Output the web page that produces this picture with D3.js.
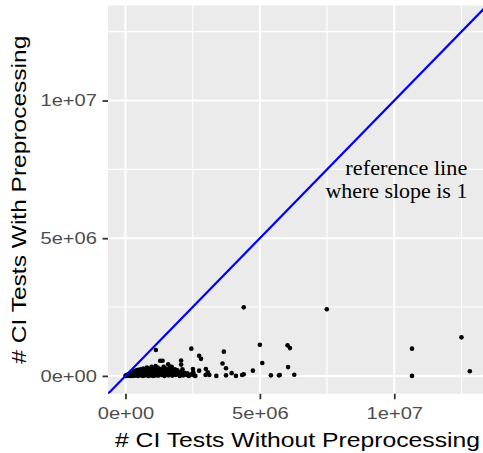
<!DOCTYPE html>
<html>
<head>
<meta charset="utf-8">
<script src="https://cdn.jsdelivr.net/npm/d3@7"></script>
<style>
  body { margin: 0; background: #fff; }
  svg { display: block; }
</style>
</head>
<body>
<script>
// values in millions of CI tests
const testsWithout = [
  0, 0.02, 0.04, 0.05, 0.07, 0.09, 0.1, 0.12, 0.14, 0.15, 0.17, 0.18, 0.2, 0.22, 0.23, 0.25,
  0.27, 0.28, 0.3, 0.31, 0.33, 0.35, 0.36, 0.38, 0.4, 0.41, 0.43, 0.45, 0.46, 0.48, 0.5, 0.52,
  0.54, 0.55, 0.57, 0.6, 0.62, 0.63, 0.65, 0.67, 0.7, 0.72, 0.73, 0.75, 0.78, 0.8, 0.81, 0.83,
  0.85, 0.87, 0.9, 0.91, 0.93, 0.95, 0.97, 1.0, 1.02, 1.03, 1.05, 1.07, 1.1, 1.12, 1.13, 1.15,
  1.17, 1.2, 1.22, 1.24, 1.26, 1.29, 1.3, 1.32, 1.35, 1.37, 1.38, 1.4, 1.42, 1.45, 1.47, 1.5,
  1.52, 1.55, 1.57, 1.59, 1.6, 1.63, 1.65, 1.67, 1.7, 1.72, 1.74, 1.77, 1.8, 1.82, 1.84, 1.86,
  1.9, 1.93, 1.95, 1.98, 2.0, 2.02, 2.05, 2.07, 2.07, 2.1, 2.12, 2.15, 2.2, 2.25, 2.3, 2.35,
  2.4, 2.45, 2.55, 2.6, 1.13,
  4.40, 7.49, 12.5, 10.66, 10.66, 12.81, 5.0, 6.03, 6.12, 5.09, 6.05, 6.28, 5.41, 5.71, 5.74,
  4.74, 4.40, 4.34, 4.11, 3.95, 3.74, 3.66, 3.61, 3.74, 3.38, 2.45, 2.74, 2.81, 2.99, 3.06,
  2.98, 3.12, 2.74, 2.51, 2.52
];
const testsWith = [
  0, 0.01, 0.02, 0, 0.03, 0.05, 0.01, 0.06, 0.02, 0.08, 0, 0.1, 0.04, 0.12, 0.02, 0.07,
  0.14, 0, 0.05, 0.16, 0.09, 0.01, 0.18, 0.11, 0.03, 0.2, 0.07, 0.13, 0, 0.22, 0.05, 0.16,
  0.09, 0.02, 0.24, 0.12, 0.04, 0.19, 0, 0.27, 0.08, 0.15, 0.02, 0.22, 0.1, 0.3, 0.04, 0.17,
  0, 0.25, 0.07, 0.21, 0.12, 0.02, 0.33, 0.09, 0.18, 0, 0.27, 0.05, 0.14, 0.36, 0.02, 0.22,
  0.1, 0.3, 0.01, 0.17, 0.07, 0.55, 0.25, 0.12, 0.03, 0.2, 0.55, 0.09, 0.33, 0, 0.15, 0.27,
  0.05, 0.21, 0.11, 0.42, 0.02, 0.18, 0.3, 0.07, 0.13, 0.33, 0.01, 0.22, 0.09, 0.16, 0.24, 0.03,
  0.12, 0.2, 0.05, 0.1, 0.09, 0, 0.15, 0.56, 0.41, 0.06, 0.24, 0.02, 0.11, 0.04, 0.09, 0,
  0.03, 0.06, 0.02, 0, 0.94,
  2.49, 2.42, 1.40, 0.99, 0.0, 0.17, 1.13, 1.11, 1.01, 0.47, 0.32, 0.04, 0.02, 0.02, 0.03,
  0.19, 0.06, 0.03, 0, 0.1, 0.02, 0.88, 0.45, 0.28, 0, 0.99, 0.73, 0.62, 0.25, 0.13,
  0.03, 0.03, 0.19, 0.25, 0.13
];
const majorTicks = [0, 5e6, 1e7];
const minorTicks = [2.5e6, 7.5e6, 12.5e6];
const noteLines = ["reference line", "where slope is 1"];
const xTitle = "# CI Tests Without Preprocessing";
const yTitle = "# CI Tests With Preprocessing";

const points = testsWithout.map((v, i) => ({ x: v * 1e6, y: testsWith[i] * 1e6 }));

const width = 483, height = 453;
const panel = { left: 108, right: 487, top: 5.5, bottom: 393.8 };
const domain = [-0.65e6, 13.45e6];

const x = d3.scaleLinear().domain(domain).range([panel.left, panel.right]);
const y = d3.scaleLinear().domain(domain).range([panel.bottom, panel.top]);

function sci(v) {
  if (v === 0) return "0e+00";
  const e = Math.floor(Math.log10(v));
  return (v / Math.pow(10, e)) + "e+" + String(e).padStart(2, "0");
}

const svg = d3.select("body").append("svg")
  .attr("width", width)
  .attr("height", height);

svg.append("defs").append("clipPath").attr("id", "clip")
  .append("rect")
    .attr("x", panel.left).attr("y", panel.top)
    .attr("width", panel.right - panel.left)
    .attr("height", panel.bottom - panel.top);

svg.append("rect")
  .attr("x", panel.left).attr("y", panel.top)
  .attr("width", panel.right - panel.left)
  .attr("height", panel.bottom - panel.top)
  .attr("fill", "#EBEBEB");

const grid = svg.append("g").attr("clip-path", "url(#clip)");

grid.selectAll("line.vminor").data(minorTicks).enter().append("line")
  .attr("x1", d => x(d)).attr("x2", d => x(d))
  .attr("y1", panel.top).attr("y2", panel.bottom)
  .attr("stroke", "#fff").attr("stroke-width", 1.1);
grid.selectAll("line.hminor").data(minorTicks).enter().append("line")
  .attr("y1", d => y(d)).attr("y2", d => y(d))
  .attr("x1", panel.left).attr("x2", panel.right)
  .attr("stroke", "#fff").attr("stroke-width", 1.1);
grid.selectAll("line.vmajor").data(majorTicks).enter().append("line")
  .attr("x1", d => x(d)).attr("x2", d => x(d))
  .attr("y1", panel.top).attr("y2", panel.bottom)
  .attr("stroke", "#fff").attr("stroke-width", 2);
grid.selectAll("line.hmajor").data(majorTicks).enter().append("line")
  .attr("y1", d => y(d)).attr("y2", d => y(d))
  .attr("x1", panel.left).attr("x2", panel.right)
  .attr("stroke", "#fff").attr("stroke-width", 2);

// points
grid.selectAll("circle").data(points).enter().append("circle")
  .attr("cx", d => x(d.x))
  .attr("cy", d => y(d.y))
  .attr("r", 2.3)
  .attr("fill", "#000");

// reference line y = x
grid.append("line")
  .attr("x1", x(domain[0])).attr("y1", y(domain[0]))
  .attr("x2", x(domain[1])).attr("y2", y(domain[1]))
  .attr("stroke", "#0000FF")
  .attr("stroke-width", 2.2);

// annotation
const note = svg.append("text")
  .attr("font-family", "'Liberation Serif', 'DejaVu Serif', serif")
  .attr("font-size", 22)
  .attr("fill", "#000")
  .attr("text-anchor", "end");
note.selectAll("tspan").data(noteLines).enter().append("tspan")
  .attr("x", x(12.72e6))
  .attr("y", (d, i) => y(7.3e6) + i * 23.3)
  .attr("textLength", (d, i) => i === 0 ? 122 : 142)
  .attr("lengthAdjust", "spacingAndGlyphs")
  .text(d => d);

// axes
const xAxis = svg.append("g")
  .attr("transform", `translate(0,${panel.bottom})`)
  .call(d3.axisBottom(x).tickValues(majorTicks).tickFormat(sci).tickSize(5.5).tickPadding(8.4));
const yAxis = svg.append("g")
  .attr("transform", `translate(${panel.left},0)`)
  .call(d3.axisLeft(y).tickValues(majorTicks).tickFormat(sci).tickSize(5.5).tickPadding(5.5));

[xAxis, yAxis].forEach(g => {
  g.select(".domain").remove();
  g.selectAll(".tick line").attr("stroke", "#333").attr("stroke-width", 1.8);
  g.selectAll(".tick text")
    .attr("fill", "#4D4D4D")
    .attr("font-family", "'Liberation Sans', Arial, sans-serif")
    .attr("font-size", 16.3)
    .attr("textLength", 56.5)
    .attr("lengthAdjust", "spacingAndGlyphs");
});

svg.append("text")
  .attr("x", 297.5)
  .attr("y", 446.7)
  .attr("text-anchor", "middle")
  .attr("font-family", "'Liberation Sans', Arial, sans-serif")
  .attr("font-size", 21)
  .attr("textLength", 365)
  .attr("lengthAdjust", "spacingAndGlyphs")
  .text(xTitle);

svg.append("text")
  .attr("transform", `translate(25.5,${(panel.top + panel.bottom) / 2}) rotate(-90)`)
  .attr("text-anchor", "middle")
  .attr("font-family", "'Liberation Sans', Arial, sans-serif")
  .attr("font-size", 21)
  .attr("textLength", 328)
  .attr("lengthAdjust", "spacingAndGlyphs")
  .text(yTitle);
</script>
</body>
</html>
